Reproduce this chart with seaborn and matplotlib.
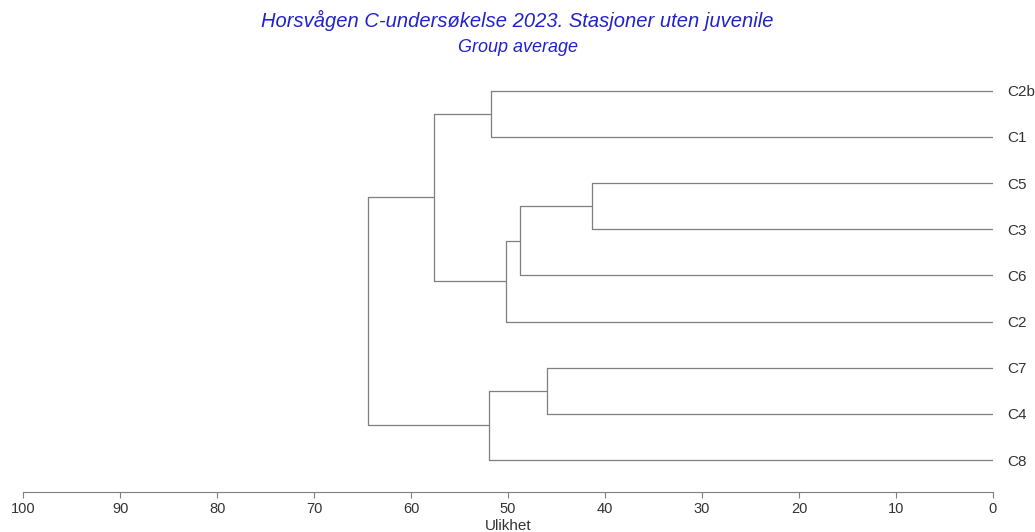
import pandas as pd
import matplotlib
matplotlib.use("Agg")
import matplotlib.pyplot as plt
import seaborn as sns

# leaf order, top to bottom
leaves = ['C2b', 'C1', 'C5', 'C3', 'C6', 'C2', 'C7', 'C4', 'C8']

# merges (group average)
merge_names = ['G1', 'G2', 'G3', 'G4', 'G5', 'G6', 'G7', 'G8']
merge_left = ['C2b', 'C5', 'G2', 'G3', 'C7', 'G5', 'G1', 'G7']
merge_right = ['C1', 'C3', 'C6', 'C2', 'C4', 'C8', 'G4', 'G6']
merge_height = [51.8, 41.3, 48.8, 50.2, 46.0, 52.0, 57.6, 64.4]

ticks = [100, 90, 80, 70, 60, 50, 40, 30, 20, 10, 0]

# node positions
pos = {name: (0.0, i) for i, name in enumerate(leaves)}
rows = []
seg = 0
for name, l, r, h in zip(merge_names, merge_left, merge_right, merge_height):
    (hl, yl), (hr, yr) = pos[l], pos[r]
    for xs, ys in [([hl, h], [yl, yl]), ([hr, h], [yr, yr]), ([h, h], [yl, yr])]:
        for x, y in zip(xs, ys):
            rows.append({'x': x, 'y': y, 'seg': seg})
        seg += 1
    pos[name] = (h, (yl + yr) / 2)
df = pd.DataFrame(rows)

sns.set_style("white")
plt.rcParams['font.family'] = ['Liberation Sans', 'DejaVu Sans']

fig = plt.figure(figsize=(10.35, 5.32), dpi=100)
ax = fig.add_axes([0.0225, 0.0752, 0.9369, 0.7978])
sns.lineplot(data=df, x='x', y='y', units='seg', estimator=None, sort=False,
             color='#7f7f7f', linewidth=0.9, ax=ax)

ax.set_xlim(100, 0)
ax.set_ylim(8.69, -0.5)
ax.set_xticks(ticks)
ax.set_xticklabels([str(t) for t in ticks], fontsize=10.5, color='#333333')
ax.yaxis.tick_right()
ax.set_yticks(range(len(leaves)))
ax.set_yticklabels(leaves, fontsize=11, color='#333333')
ax.tick_params(axis='y', length=0, pad=10)
ax.tick_params(axis='x', length=4.5, width=0.8, color='#7f7f7f', pad=2.5, bottom=True)
for s in ['top', 'right', 'left']:
    ax.spines[s].set_visible(False)
ax.spines['bottom'].set_color('#7f7f7f')
ax.spines['bottom'].set_linewidth(0.8)
ax.set_xlabel('Ulikhet', fontsize=11, color='#333333', labelpad=2.5)
ax.set_ylabel('')
ax.grid(False)

fig.text(0.5, 0.9492, 'Horsvågen C-undersøkelse 2023. Stasjoner uten juvenile',
         ha='center', va='baseline', fontsize=14.5, style='italic', color='#2222cc')
fig.text(0.5, 0.9023, 'Group average', ha='center', va='baseline',
         fontsize=13, style='italic', color='#2222cc')

fig.savefig('out.png', dpi=100)
